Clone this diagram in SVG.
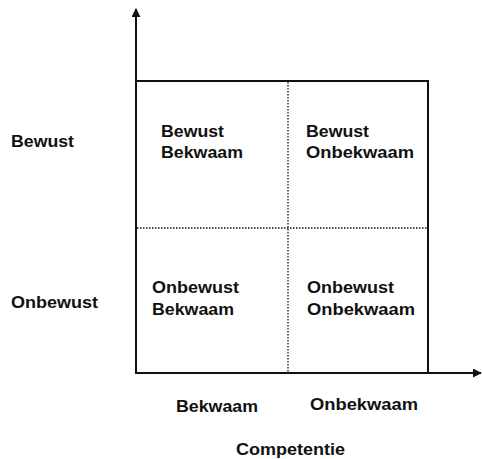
<svg xmlns="http://www.w3.org/2000/svg" width="483" height="459" viewBox="0 0 483 459">
<style>
text{font-family:"Liberation Sans",Arial,sans-serif;font-weight:bold;font-size:16.5px;fill:#111}
.solid{stroke:#111;stroke-width:2;fill:none}
.dot{stroke:#111;stroke-width:1.3;stroke-dasharray:1.5 1.5;fill:none}
</style>
<defs>
<marker id="ah" viewBox="0 0 10 10" refX="9" refY="5" markerWidth="9" markerHeight="9" markerUnits="userSpaceOnUse" orient="auto">
<path d="M0,0 L10,5 L0,10 z" fill="#111"/>
</marker>
</defs>
<g id="connectors">
<line class="solid" x1="136" y1="374" x2="136" y2="9" marker-end="url(#ah)"/>
<line class="solid" x1="135" y1="373" x2="481" y2="373" marker-end="url(#ah)"/>
<line class="solid" x1="136" y1="81" x2="428" y2="81"/>
<line class="solid" x1="428" y1="80" x2="428" y2="373"/>
<line class="dot" x1="288" y1="82" x2="288" y2="372"/>
<line class="dot" x1="137" y1="228" x2="427" y2="228"/>
</g>
<g id="cell-bewust-bekwaam">
<text x="161" y="137" textLength="63" lengthAdjust="spacingAndGlyphs">Bewust</text>
<text x="161" y="158" textLength="82" lengthAdjust="spacingAndGlyphs">Bekwaam</text>
</g>
<g id="cell-bewust-onbekwaam">
<text x="306" y="137" textLength="63" lengthAdjust="spacingAndGlyphs">Bewust</text>
<text x="306" y="158" textLength="108" lengthAdjust="spacingAndGlyphs">Onbekwaam</text>
</g>
<g id="cell-onbewust-bekwaam">
<text x="152" y="293" textLength="87" lengthAdjust="spacingAndGlyphs">Onbewust</text>
<text x="152" y="315" textLength="82" lengthAdjust="spacingAndGlyphs">Bekwaam</text>
</g>
<g id="cell-onbewust-onbekwaam">
<text x="307" y="293" textLength="87" lengthAdjust="spacingAndGlyphs">Onbewust</text>
<text x="307" y="315" textLength="108" lengthAdjust="spacingAndGlyphs">Onbekwaam</text>
</g>
<g id="label-bewust"><text x="11" y="147" textLength="63" lengthAdjust="spacingAndGlyphs">Bewust</text></g>
<g id="label-onbewust"><text x="11" y="308" textLength="87" lengthAdjust="spacingAndGlyphs">Onbewust</text></g>
<g id="label-bekwaam"><text x="176" y="412" textLength="82" lengthAdjust="spacingAndGlyphs">Bekwaam</text></g>
<g id="label-onbekwaam"><text x="310" y="410" textLength="108" lengthAdjust="spacingAndGlyphs">Onbekwaam</text></g>
<g id="label-competentie"><text x="236" y="455" textLength="109" lengthAdjust="spacingAndGlyphs">Competentie</text></g>
</svg>
